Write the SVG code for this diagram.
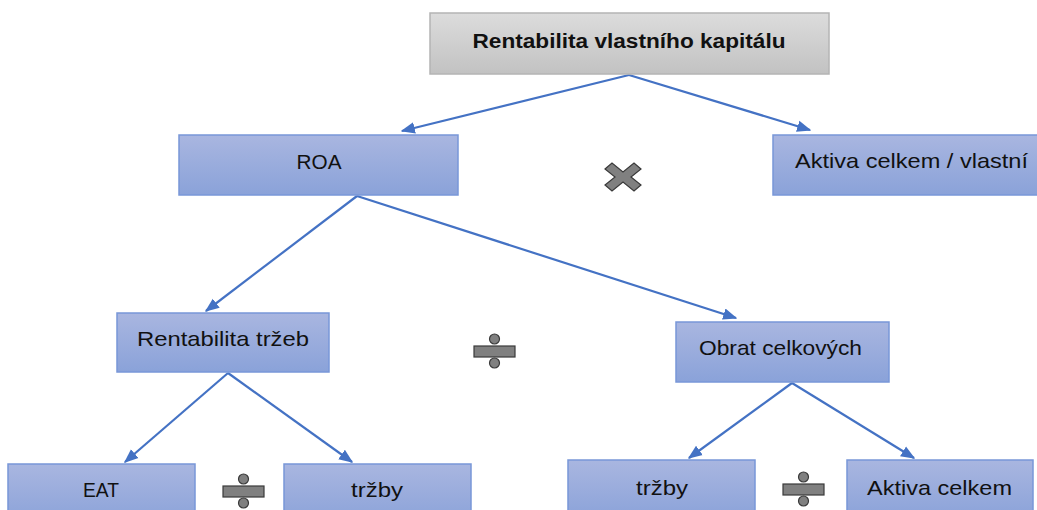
<svg xmlns="http://www.w3.org/2000/svg" width="1037" height="510" viewBox="0 0 1037 510">
<defs>
<linearGradient id="gBlue" x1="0" y1="0" x2="0" y2="1">
<stop offset="0" stop-color="#a9b6e0"/>
<stop offset="1" stop-color="#8aa2d9"/>
</linearGradient>
<linearGradient id="gGray" x1="0" y1="0" x2="0" y2="1">
<stop offset="0" stop-color="#dcdcdc"/>
<stop offset="1" stop-color="#c2c2c2"/>
</linearGradient>
<marker id="arr" viewBox="0 0 10 10" refX="9" refY="5" markerWidth="6.5" markerHeight="6.5" orient="auto" markerUnits="strokeWidth">
<path d="M0,1 L10,5 L0,9 z" fill="#4472c4"/>
</marker>
</defs>
<style>
.box{fill:url(#gBlue);stroke:#7897d8;stroke-width:1.5}
.top{fill:url(#gGray);stroke:#b4b4b4;stroke-width:1.5}
.t{font-family:"Liberation Sans",Arial,sans-serif;font-size:21px;fill:#111;text-anchor:middle}
.tb{font-family:"Liberation Sans",Arial,sans-serif;font-size:20px;font-weight:bold;fill:#111;text-anchor:middle}
.c{stroke:#4472c4;stroke-width:2.2;fill:none;marker-end:url(#arr)}
.op{fill:#808080;stroke:#3a3a3a;stroke-width:1.2}
</style>
<g id="connectors">
<line class="c" x1="629" y1="75" x2="402" y2="131"/>
<line class="c" x1="629" y1="75" x2="810" y2="130"/>
<line class="c" x1="357" y1="196" x2="206" y2="311"/>
<line class="c" x1="357" y1="196" x2="736" y2="318"/>
<line class="c" x1="228" y1="373" x2="125" y2="462"/>
<line class="c" x1="228" y1="373" x2="352" y2="462"/>
<line class="c" x1="792" y1="383" x2="689" y2="458"/>
<line class="c" x1="792" y1="383" x2="914" y2="458"/>
</g>
<g id="node-root">
<rect class="top" x="430" y="13" width="399" height="61"/>
<text class="tb" x="629" y="48" textLength="313" lengthAdjust="spacingAndGlyphs">Rentabilita vlastního kapitálu</text>
</g>
<g id="node-roa">
<rect class="box" x="179" y="135" width="279" height="60"/>
<text class="t" x="319" y="169" textLength="45" lengthAdjust="spacingAndGlyphs">ROA</text>
</g>
<g id="node-aktiva-vlastni">
<rect class="box" x="773" y="135" width="290" height="60"/>
<text class="t" x="911.5" y="168" textLength="233" lengthAdjust="spacingAndGlyphs">Aktiva celkem / vlastní</text>
</g>
<g id="op-multiply">
<polygon class="op" transform="translate(623,177)" points="-18,-8 -11,-14 0,-5 11,-14 18,-8 8,0 18,8 11,14 0,5 -11,14 -18,8 -8,0"/>
</g>
<g id="node-rentabilita-trzeb">
<rect class="box" x="117" y="313" width="212" height="59"/>
<text class="t" x="223" y="346" textLength="172" lengthAdjust="spacingAndGlyphs">Rentabilita tržeb</text>
</g>
<g id="op-divide-1">
<rect class="op" x="474" y="346" width="41" height="11"/>
<circle class="op" cx="494.5" cy="339" r="5"/>
<circle class="op" cx="494.5" cy="363" r="5"/>
</g>
<g id="node-obrat">
<rect class="box" x="676" y="322" width="213" height="60"/>
<text class="t" x="780.5" y="355" textLength="163" lengthAdjust="spacingAndGlyphs">Obrat celkových</text>
</g>
<g id="node-eat">
<rect class="box" x="8" y="464" width="187" height="60"/>
<text class="t" x="101" y="497" textLength="36" lengthAdjust="spacingAndGlyphs">EAT</text>
</g>
<g id="op-divide-2">
<rect class="op" x="223" y="486" width="41" height="11"/>
<circle class="op" cx="243.5" cy="479" r="5"/>
<circle class="op" cx="243.5" cy="503" r="5"/>
</g>
<g id="node-trzby-1">
<rect class="box" x="284" y="464" width="187" height="60"/>
<text class="t" x="377" y="497" textLength="52" lengthAdjust="spacingAndGlyphs">tržby</text>
</g>
<g id="node-trzby-2">
<rect class="box" x="568" y="460" width="187" height="60"/>
<text class="t" x="662" y="495" textLength="52" lengthAdjust="spacingAndGlyphs">tržby</text>
</g>
<g id="op-divide-3">
<rect class="op" x="783" y="484" width="41" height="11"/>
<circle class="op" cx="803.5" cy="477" r="5"/>
<circle class="op" cx="803.5" cy="501" r="5"/>
</g>
<g id="node-aktiva-celkem">
<rect class="box" x="847" y="460" width="186" height="60"/>
<text class="t" x="939.5" y="495" textLength="145" lengthAdjust="spacingAndGlyphs">Aktiva celkem</text>
</g>
</svg>
